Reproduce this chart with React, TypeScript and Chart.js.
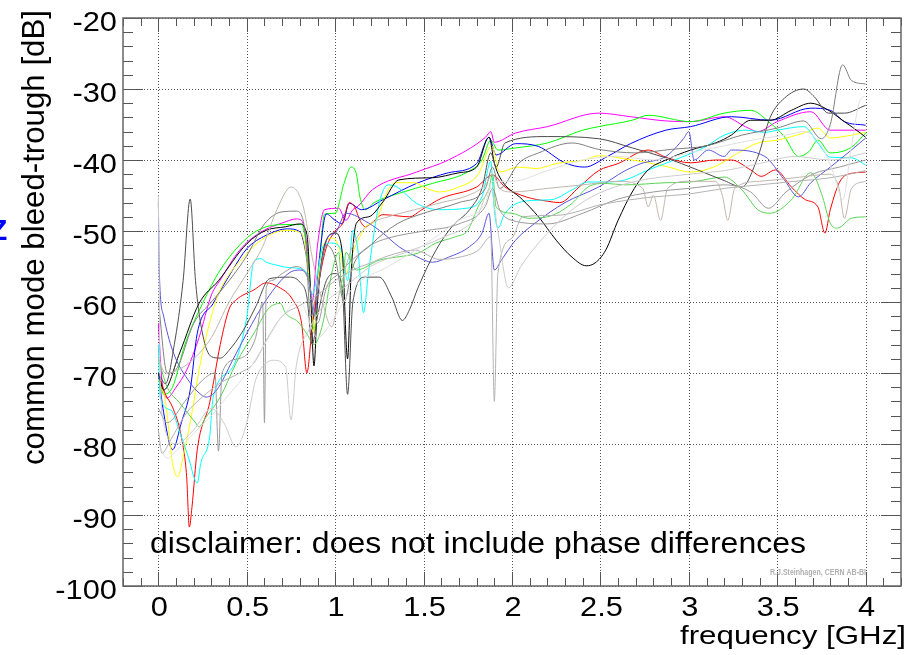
import React, { useEffect, useRef } from "react";
import { Chart, registerables } from "chart.js";

Chart.register(...registerables);

// ---- axis configuration (values only) ----
const xMin = -0.2;
const xMax = 4.2;
const yMin = -100;
const yMax = -20;
const xMajorTicks = [0, 0.5, 1, 1.5, 2, 2.5, 3, 3.5, 4];
const xTickLabels = ["0", "0.5", "1", "1.5", "2", "2.5", "3", "3.5", "4"];
const yMajorTicks = [-100, -90, -80, -70, -60, -50, -40, -30, -20];
const yTickLabels = ["-100", "-90", "-80", "-70", "-60", "-50", "-40", "-30", "-20"];
const xMinorStep = 0.1;
const yMinorStep = 2;

const xTitle = "frequency [GHz]";
const yTitle = "common mode bleed-trough [dB]";
const disclaimer = "disclaimer: does not include phase differences";
const credit = "R.J.Steinhagen, CERN AB-BI";

// ---- series: [frequency GHz, dB] ----
const magenta = [[0,-63],[0.02,-71],[0.05,-73.5],[0.1,-72],[0.16,-69.6],[0.23,-65],[0.3,-59],[0.35,-56.9],[0.46,-52.7],[0.57,-50.3],[0.72,-48.7],[0.78,-48.3],[0.81,-48.5],[0.84,-52],[0.87,-60],[0.9,-52],[0.94,-47],[1.02,-46.8],[1.06,-48.5],[1.1,-47],[1.13,-46.5],[1.21,-44.2],[1.46,-41.7],[1.64,-40],[1.85,-36.8],[1.88,-36],[1.9,-37.5],[2.02,-36.2],[2.2,-35.3],[2.49,-33.4],[2.67,-33.9],[2.87,-34.5],[3.01,-34.6],[3.2,-33.9],[3.32,-35.3],[3.39,-36],[3.5,-34.6],[3.69,-33.2],[3.8,-35.8],[4.0,-35.8]];

const green = [[0,-70],[0.03,-73],[0.08,-72],[0.15,-66],[0.25,-60.2],[0.35,-55.5],[0.5,-51],[0.61,-49.4],[0.72,-49.1],[0.81,-49.1],[0.85,-55],[0.88,-64],[0.91,-55],[0.94,-47.6],[1.0,-47.5],[1.05,-43.3],[1.09,-41],[1.12,-42],[1.14,-45.2],[1.17,-47],[1.22,-46],[1.36,-44.7],[1.55,-43.3],[1.74,-41.8],[1.83,-40],[1.88,-37.2],[1.92,-38.6],[2.02,-38.3],[2.2,-37.6],[2.4,-35.8],[2.49,-35.3],[2.68,-34.4],[2.77,-33.7],[3.01,-34.6],[3.2,-33.4],[3.35,-33],[3.46,-34.8],[3.54,-36.7],[3.62,-39.5],[3.68,-38.8],[3.73,-37.2],[3.8,-39],[3.92,-38.2],[4.0,-36.2]];

const blue = [[0,-70],[0.03,-75.6],[0.08,-80.8],[0.13,-77],[0.18,-72.4],[0.22,-64.4],[0.31,-60.2],[0.42,-55.5],[0.5,-52.5],[0.61,-50.6],[0.73,-49.7],[0.8,-50.1],[0.84,-54],[0.88,-62],[0.91,-54],[0.95,-47.6],[1.0,-48.5],[1.04,-49],[1.08,-46.1],[1.15,-47],[1.27,-45.6],[1.46,-43.3],[1.64,-41.8],[1.8,-40.5],[1.87,-36.8],[1.91,-39.3],[2.02,-37.7],[2.15,-38.1],[2.3,-40.4],[2.41,-41],[2.54,-39.5],[2.67,-37.7],[2.87,-35.8],[3.01,-35.3],[3.24,-33.9],[3.46,-34.4],[3.69,-32.7],[3.8,-33],[3.88,-34.6],[4.0,-35.1]];

const red = [[0,-70],[0.04,-73],[0.08,-74.8],[0.13,-79],[0.16,-84.6],[0.175,-91.7],[0.19,-88.9],[0.22,-80.8],[0.29,-74.2],[0.35,-66],[0.4,-61],[0.44,-59.7],[0.54,-58.3],[0.61,-57.3],[0.68,-57.9],[0.76,-59.7],[0.81,-63],[0.84,-70],[0.87,-63.5],[0.94,-53.2],[1.0,-50],[1.04,-49],[1.08,-46],[1.11,-46.6],[1.14,-48.5],[1.17,-49.4],[1.2,-49],[1.27,-47.7],[1.42,-48],[1.49,-47],[1.6,-45.4],[1.8,-43.8],[1.89,-42.1],[1.96,-43.8],[2.08,-45.2],[2.2,-45.8],[2.27,-46],[2.38,-43.8],[2.49,-41.5],[2.6,-40.5],[2.77,-38.6],[2.87,-39.6],[3.01,-40.4],[3.15,-40],[3.24,-40],[3.35,-41.4],[3.41,-42.3],[3.49,-41.4],[3.58,-43.8],[3.66,-45.6],[3.73,-46.6],[3.77,-50.3],[3.8,-47],[3.86,-42.8],[3.94,-41.8],[4.0,-41.7]];

const yellow = [[0,-71],[0.04,-74],[0.08,-82.7],[0.11,-84.6],[0.14,-81.8],[0.19,-75.6],[0.23,-69.6],[0.27,-64.9],[0.31,-61.1],[0.34,-58.8],[0.5,-53.2],[0.61,-50.8],[0.73,-49.9],[0.81,-50.4],[0.85,-56],[0.88,-64.4],[0.91,-55],[0.95,-51.3],[0.99,-51],[1.02,-52.2],[1.06,-56],[1.1,-53],[1.15,-50.3],[1.17,-49.4],[1.23,-48.5],[1.3,-44.2],[1.34,-43.2],[1.45,-43.2],[1.5,-43.8],[1.59,-44.5],[1.7,-43.8],[1.81,-42],[1.885,-38],[1.93,-41.7],[2.03,-41],[2.14,-41.2],[2.25,-40.5],[2.41,-40],[2.49,-39.4],[2.68,-40],[2.87,-40.9],[3.01,-41.7],[3.15,-40.9],[3.28,-39],[3.39,-37.6],[3.5,-37.2],[3.65,-36.2],[3.73,-35.5],[3.8,-36.9],[3.92,-36.5],[4.0,-36.1]];

const cyan = [[0,-66],[0.01,-73.4],[0.07,-75.2],[0.13,-79],[0.18,-82.7],[0.2,-84.6],[0.22,-85.5],[0.24,-82.7],[0.29,-79],[0.31,-73.4],[0.42,-69.2],[0.5,-62.1],[0.54,-54.3],[0.58,-53.9],[0.61,-54.4],[0.67,-54.8],[0.72,-55.1],[0.8,-55.3],[0.84,-56],[0.87,-59],[0.9,-56],[0.93,-52.2],[0.98,-51.7],[1.04,-53.1],[1.07,-57],[1.1,-49.9],[1.13,-53],[1.16,-61.5],[1.19,-55.5],[1.25,-46],[1.3,-43.5],[1.35,-43.8],[1.46,-46.1],[1.59,-47],[1.74,-46.8],[1.83,-45.2],[1.88,-40.2],[1.9,-47],[1.92,-49.6],[1.96,-47.5],[2.11,-45.7],[2.22,-45.6],[2.34,-44.2],[2.43,-43.1],[2.53,-43.1],[2.64,-42.8],[2.77,-41.4],[2.96,-39.6],[3.09,-38.2],[3.2,-36.5],[3.32,-35.8],[3.43,-36.1],[3.5,-35.8],[3.65,-35.3],[3.73,-37.6],[3.8,-39.6],[3.92,-39.7],[4.0,-40.7]];

const black = [[0,-70],[0.03,-72.4],[0.12,-67.2],[0.23,-60.2],[0.34,-57],[0.5,-51.8],[0.61,-49.9],[0.72,-49.4],[0.8,-49],[0.84,-50.5],[0.86,-58],[0.88,-69],[0.9,-60],[0.94,-52],[1.0,-50.3],[1.04,-53],[1.07,-68],[1.09,-56],[1.12,-48.9],[1.19,-48],[1.27,-45.9],[1.36,-42.8],[1.55,-42.5],[1.7,-41.8],[1.8,-41],[1.87,-36.8],[1.9,-40.4],[1.93,-42.4],[2.06,-45.6],[2.15,-48],[2.25,-51.3],[2.34,-53.7],[2.42,-54.9],[2.47,-54.5],[2.53,-52.7],[2.6,-48.5],[2.68,-44.5],[2.77,-41.4],[2.87,-40],[3.01,-38.6],[3.15,-37.6],[3.24,-36.5],[3.35,-34.4],[3.46,-34.4],[3.58,-33],[3.69,-32],[3.77,-32.7],[3.88,-34.6],[3.97,-36.2],[4.0,-36.8]];

const grayDark = [[0,-70],[0.04,-71.5],[0.09,-66],[0.14,-57],[0.18,-45.5],[0.21,-57],[0.25,-64.5],[0.3,-67.7],[0.35,-67.9],[0.4,-66.8],[0.48,-64],[0.55,-60.7],[0.63,-56.7],[0.74,-56.5],[0.8,-57.2],[0.84,-59.3],[0.87,-66],[0.9,-62],[0.95,-57],[1.0,-56],[1.04,-58],[1.07,-73],[1.1,-60],[1.17,-56.5],[1.25,-56.5],[1.32,-59.3],[1.38,-62.6],[1.42,-61.1],[1.47,-57.9],[1.57,-52.7],[1.66,-49.4],[1.76,-47],[1.83,-44],[1.88,-39],[1.91,-41],[1.96,-37.6],[2.2,-36.7],[2.49,-37],[2.68,-38.3],[2.87,-39.7],[3.05,-41.4],[3.2,-42.9],[3.3,-43.8],[3.39,-39.6],[3.46,-34],[3.54,-31.3],[3.65,-30],[3.71,-31.1],[3.79,-33.4],[3.88,-33.4],[4.0,-32.3]];

const grayMid = [[0,-60],[0.05,-70],[0.1,-69.5],[0.2,-63],[0.3,-60],[0.4,-57],[0.5,-53.5],[0.6,-49],[0.7,-47.3],[0.78,-47.2],[0.83,-50],[0.86,-62],[0.9,-58],[0.95,-52],[1.0,-53.8],[1.05,-60],[1.1,-55],[1.2,-52],[1.35,-49],[1.5,-47.5],[1.7,-46],[1.85,-44],[1.89,-41],[1.93,-44],[2.04,-40.4],[2.15,-39],[2.34,-37.6],[2.49,-38.5],[2.7,-39],[2.9,-38.5],[3.1,-38],[3.3,-36.5],[3.5,-35.5],[3.65,-34.5],[3.75,-37],[3.8,-35],[3.87,-26.6],[3.92,-28.8],[4.0,-29.3]];

const grayLightA = [[0,-78],[0.02,-81.3],[0.07,-79.4],[0.16,-75.6],[0.23,-73.8],[0.35,-71.4],[0.46,-70],[0.54,-68.6],[0.62,-65],[0.7,-62],[0.8,-60.5],[0.9,-59],[1.0,-57],[1.1,-55.5],[1.2,-54.5],[1.3,-53.5],[1.45,-52.7],[1.59,-54],[1.7,-53.7],[1.81,-52.7],[1.88,-50.8],[1.9,-74],[1.92,-56],[2.0,-51],[2.06,-48],[2.25,-47.8],[2.52,-46.2],[2.8,-45.2],[3.0,-44.8],[3.2,-44],[3.4,-43.5],[3.6,-43],[3.8,-42.5],[4.0,-41.5]];

const grayLightB = [[0,-45],[0.01,-70],[0.03,-77],[0.1,-80],[0.2,-78],[0.3,-75],[0.37,-77],[0.44,-80.4],[0.5,-77],[0.55,-71],[0.61,-68.6],[0.65,-68.2],[0.72,-69.2],[0.75,-76.6],[0.78,-69],[0.85,-64],[0.95,-60],[1.05,-58],[1.2,-55],[1.4,-53],[1.6,-51],[1.8,-48],[1.88,-44],[1.92,-50],[1.98,-58],[2.05,-55],[2.15,-51.7],[2.34,-47],[2.49,-44.7],[2.7,-43],[3.0,-42],[3.2,-41.5],[3.4,-40.5],[3.6,-39.5],[3.8,-40],[4.0,-39]];

const beige = [[0,-68],[0.04,-70],[0.1,-69.7],[0.2,-68],[0.3,-65],[0.4,-60],[0.5,-56],[0.59,-52.2],[0.67,-47],[0.75,-43.8],[0.82,-46.6],[0.87,-53.7],[0.93,-60.2],[0.98,-63.5],[1.03,-58],[1.1,-52],[1.2,-49],[1.3,-48],[1.45,-47],[1.6,-46],[1.75,-45],[1.85,-43.5],[1.89,-42],[1.93,-44],[2.0,-44.5],[2.2,-44],[2.4,-43.5],[2.6,-43],[2.74,-44],[2.77,-46.6],[2.8,-45],[2.84,-48.5],[2.88,-44],[3.0,-43],[3.15,-43],[3.19,-45],[3.22,-48.5],[3.26,-44],[3.4,-43],[3.6,-42.5],[3.8,-42],[3.85,-44],[3.88,-48.2],[3.92,-44],[4.0,-43]];

const grayC = [[0,-75],[0.05,-77],[0.15,-74],[0.25,-71],[0.32,-70],[0.34,-81],[0.36,-70],[0.45,-68],[0.55,-65],[0.59,-60],[0.6,-77],[0.61,-58],[0.64,-57],[0.7,-56],[0.78,-55],[0.85,-57],[0.9,-63],[0.95,-58],[1.02,-56],[1.1,-54],[1.2,-52],[1.3,-51],[1.5,-50],[1.7,-49],[1.85,-46.5],[1.89,-44],[1.93,-47],[2.0,-48.5],[2.2,-49],[2.4,-47.5],[2.6,-45.5],[2.8,-44.5],[3.0,-44],[3.2,-43.5],[3.35,-44.5],[3.45,-46.8],[3.55,-44.5],[3.7,-42],[3.85,-41],[4.0,-40]];

const grayLightD = [[0,-80],[0.05,-82],[0.1,-81],[0.2,-78.5],[0.3,-76],[0.4,-73],[0.5,-70],[0.6,-66],[0.7,-62],[0.8,-60],[0.9,-65],[1.0,-62],[1.1,-58],[1.3,-55],[1.5,-52],[1.7,-48.5],[1.85,-46],[1.89,-43],[2.0,-43],[2.2,-41.5],[2.4,-40],[2.6,-39.5],[2.8,-40],[3.0,-39],[3.2,-38],[3.4,-37],[3.55,-36.5],[3.65,-36],[3.75,-38],[3.82,-42],[3.87,-45.6],[3.92,-38],[3.97,-31.5],[4.0,-31]];

const mediumGreen = [[0,-68],[0.05,-72],[0.12,-74.2],[0.21,-77],[0.23,-77.6],[0.27,-76.2],[0.35,-73.4],[0.44,-68.6],[0.55,-64],[0.62,-61],[0.69,-60.2],[0.72,-61.6],[0.79,-62.8],[0.84,-64.5],[0.88,-66],[0.93,-63],[0.98,-56],[1.02,-53],[1.04,-59],[1.06,-53],[1.12,-55.5],[1.25,-54.1],[1.34,-53.7],[1.47,-53.1],[1.57,-51.7],[1.68,-50.8],[1.75,-49.9],[1.81,-46.5],[1.87,-44],[1.89,-42],[1.91,-46.6],[2.0,-47.5],[2.09,-48.2],[2.2,-48],[2.34,-46.1],[2.43,-43.8],[2.53,-43.3],[2.64,-43.5],[2.87,-43.2],[3.01,-43.1],[3.2,-42.4],[3.3,-44.2],[3.39,-47],[3.46,-47.5],[3.58,-45.6],[3.69,-41.8],[3.75,-44.7],[3.8,-48.9],[3.84,-49.6],[3.92,-48.2],[4.0,-48]];

const slateBlue = [[0,-46],[0.005,-55.5],[0.03,-62],[0.08,-66.8],[0.18,-71.4],[0.23,-72.8],[0.27,-73.4],[0.33,-72.4],[0.42,-68.2],[0.5,-64.4],[0.61,-59.7],[0.74,-55.9],[0.8,-55.5],[0.85,-57],[0.88,-62],[0.92,-55],[0.96,-50.8],[1.0,-50.3],[1.06,-47.5],[1.19,-48.9],[1.27,-50.3],[1.36,-52.2],[1.46,-53.6],[1.55,-54.4],[1.64,-53.7],[1.76,-52.2],[1.83,-50.3],[1.87,-47.5],[1.9,-55.5],[1.94,-54.1],[2.02,-51.3],[2.13,-48.9],[2.3,-46],[2.49,-43.8],[2.64,-41.5],[2.73,-40.5],[2.87,-39.5],[2.97,-37],[3.0,-36],[3.03,-40],[3.11,-38.6],[3.2,-39.5],[3.24,-38.6],[3.43,-39.5],[3.54,-42.8],[3.62,-45.2],[3.69,-43.2],[3.8,-41],[3.9,-39],[4.0,-36.9]];

const seriesList = [
  { data: grayLightD, color: "#e0e0e0" },
  { data: grayLightB, color: "#cccccc" },
  { data: grayLightA, color: "#b2b2b2" },
  { data: beige, color: "#c0b6ac" },
  { data: grayC, color: "#999999" },
  { data: grayMid, color: "#7f7f7f" },
  { data: grayDark, color: "#4c4c4c" },
  { data: mediumGreen, color: "#59d454" },
  { data: slateBlue, color: "#5954d9" },
  { data: black, color: "#000000" },
  { data: cyan, color: "#00ffff" },
  { data: yellow, color: "#ffff00" },
  { data: red, color: "#ff0000" },
  { data: blue, color: "#0000ff" },
  { data: green, color: "#00ff00" },
  { data: magenta, color: "#ff00ff" },
];

const FONT = "'Liberation Sans', Arial, Helvetica, sans-serif";

function stretchText(ctx, text, x, y, font, sx, align) {
  ctx.save();
  ctx.font = font;
  ctx.textAlign = align;
  ctx.textBaseline = "alphabetic";
  ctx.translate(x, y);
  ctx.scale(sx, 1);
  ctx.fillText(text, 0, 0);
  ctx.restore();
}

function fitText(ctx, text, x, y, size, width, align, bold) {
  ctx.save();
  const font = (bold ? "bold " : "") + size + "px " + FONT;
  ctx.font = font;
  const w = ctx.measureText(text).width;
  ctx.restore();
  stretchText(ctx, text, x, y, font, width / w, align);
}

const framePlugin = {
  id: "rootFrame",
  beforeDatasetsDraw(chart) {
    const { ctx, chartArea: a, scales } = chart;
    const xs = scales.x;
    const ys = scales.y;
    ctx.save();
    ctx.strokeStyle = "#555";
    ctx.lineWidth = 1;
    ctx.setLineDash([1, 2]);
    xMajorTicks.forEach((v) => {
      const px = Math.round(xs.getPixelForValue(v)) + 0.5;
      ctx.beginPath();
      ctx.moveTo(px, a.top);
      ctx.lineTo(px, a.bottom);
      ctx.stroke();
    });
    yMajorTicks.forEach((v) => {
      const py = Math.round(ys.getPixelForValue(v)) + 0.5;
      ctx.beginPath();
      ctx.moveTo(a.left, py);
      ctx.lineTo(a.right, py);
      ctx.stroke();
    });
    ctx.restore();
  },
  afterDatasetsDraw(chart) {
    const { ctx, chartArea: a, scales } = chart;
    const xs = scales.x;
    const ys = scales.y;
    ctx.save();
    ctx.strokeStyle = "#555";
    ctx.lineWidth = 1;
    for (let v = -0.2; v <= xMax + 1e-6; v += xMinorStep) {
      const r = Math.round(v * 10) / 10;
      const major = Math.abs(r * 2 - Math.round(r * 2)) < 1e-6;
      const len = major ? 14 : 8;
      const px = Math.round(xs.getPixelForValue(r)) + 0.5;
      ctx.beginPath();
      ctx.moveTo(px, a.bottom);
      ctx.lineTo(px, a.bottom - len);
      ctx.moveTo(px, a.top);
      ctx.lineTo(px, a.top + len);
      ctx.stroke();
    }
    for (let v = yMin; v <= yMax; v += yMinorStep) {
      const major = v % 10 === 0;
      const len = major ? 20 : 10;
      const py = Math.round(ys.getPixelForValue(v)) + 0.5;
      ctx.beginPath();
      ctx.moveTo(a.left, py);
      ctx.lineTo(a.left + len, py);
      ctx.moveTo(a.right, py);
      ctx.lineTo(a.right - len, py);
      ctx.stroke();
    }
    ctx.lineWidth = 1.5;
    ctx.strokeStyle = "#666";
    ctx.strokeRect(a.left, a.top, a.right - a.left, a.bottom - a.top);
    ctx.restore();

    // tick labels
    ctx.save();
    ctx.fillStyle = "#000";
    const tickFont = "28px " + FONT;
    yMajorTicks.forEach((v, i) => {
      const py = ys.getPixelForValue(v);
      stretchText(ctx, yTickLabels[i], a.left - 6, py + 13, tickFont, 1.1, "right");
    });
    xMajorTicks.forEach((v, i) => {
      const px = xs.getPixelForValue(v);
      stretchText(ctx, xTickLabels[i], px + 1, a.bottom + 30, "28px " + FONT, 1.1, "center");
    });

    // axis titles
    fitText(ctx, xTitle, 906, 644, 26, 226, "right", false);
    ctx.save();
    ctx.translate(44, 10);
    ctx.rotate(-Math.PI / 2);
    fitText(ctx, yTitle, 0, 0, 31, 455, "right", false);
    ctx.restore();

    // annotations
    fitText(ctx, disclaimer, 150, 553, 29, 656, "left", false);
    ctx.fillStyle = "#b0b0b0";
    fitText(ctx, credit, 866, 575, 9, 96, "right", true);

    // clipped blue glyph at far left
    ctx.fillStyle = "#0000ff";
    ctx.font = "bold 30px " + FONT;
    ctx.textAlign = "left";
    ctx.fillText("Z", -11, 240);
    ctx.restore();
  },
};

export default function App() {
  const ref = useRef(null);
  useEffect(() => {
    document.body.style.margin = "0";
    const chart = new Chart(ref.current, {
      type: "line",
      data: {
        datasets: seriesList.map((s) => ({
          data: s.data.map((p) => ({ x: p[0], y: p[1] })),
          borderColor: s.color,
          backgroundColor: s.color,
          borderWidth: 1,
          pointRadius: 0,
          fill: false,
          cubicInterpolationMode: "monotone",
        })),
      },
      options: {
        responsive: false,
        animation: false,
        events: [],
        layout: { padding: { left: 123, right: 11, top: 18, bottom: 69 } },
        plugins: { legend: { display: false }, tooltip: { enabled: false } },
        scales: {
          x: {
            type: "linear",
            min: xMin,
            max: xMax,
            grid: { display: false, drawTicks: false },
            border: { display: false },
            ticks: { display: false, stepSize: 0.5, includeBounds: false },
          },
          y: {
            type: "linear",
            min: yMin,
            max: yMax,
            grid: { display: false, drawTicks: false },
            border: { display: false },
            ticks: { display: false, stepSize: 10 },
          },
        },
      },
      plugins: [framePlugin],
    });
    return () => chart.destroy();
  }, []);
  return (
    <div style={{ position: "fixed", left: 0, top: 0, width: 912, height: 655, background: "#fff" }}>
      <canvas ref={ref} width={912} height={655} style={{ display: "block" }} />
    </div>
  );
}
